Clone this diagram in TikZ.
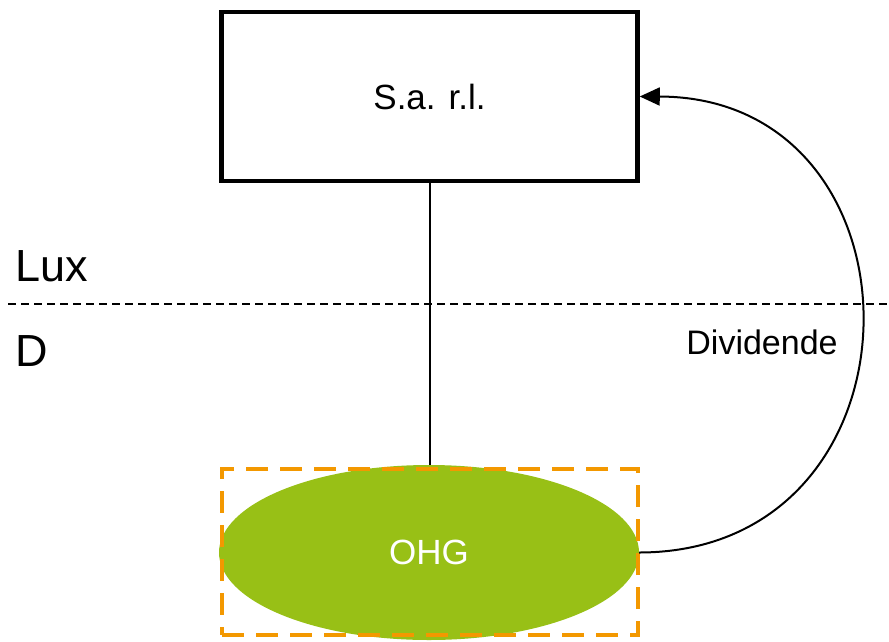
\documentclass[tikz,border=0pt]{standalone}
\usepackage{fontspec}
\setmainfont{Liberation Sans}
\usetikzlibrary{shapes.geometric,arrows.meta}
\definecolor{ohggreen}{RGB}{152,192,22}
\definecolor{frameorange}{RGB}{243,152,0}
\tikzset{
  bigtext/.style={font=\fontsize{35}{42}\selectfont},
  hugetext/.style={font=\fontsize{45}{54}\selectfont},
  company/.style={draw=black, line width=4.5pt, minimum width=416pt, minimum height=169pt, inner sep=0pt, bigtext},
  partnership/.style={ellipse, fill=ohggreen, minimum width=420pt, minimum height=175pt, inner sep=0pt, text=white, bigtext},
  ohgframe/.style={draw=frameorange, line width=4.5pt, dash pattern=on 22pt off 12pt, minimum width=416pt, minimum height=166pt, inner sep=0pt},
  border/.style={line width=1.5pt, dash pattern=on 8pt off 5pt},
  link/.style={line width=2pt},
  flow/.style={line width=2pt, -{Triangle[length=20pt,width=18pt]}}
}
\begin{document}
\begin{tikzpicture}[x=1pt,y=-1pt]
  \useasboundingbox (0,0) rectangle (889,641);
  % country border
  \coordinate (bl) at (8,304);
  \coordinate (br) at (889,304);
  \draw[border] (bl) -- (br);
  \node[hugetext, anchor=west] (lux) at (12,266) {Lux};
  \node[hugetext, anchor=west] (de) at (12,351) {D};
  % entities
  \node[company] (sarl) at (429.5,96.5) {S.a. r.l.};
  \node[partnership] (ohg) at (429,552.5) {OHG};
  \node[ohgframe] (frame) at (430,552) {};
  \draw[link] (sarl.south) -- (sarl.south |- ohg.north);
  % dividend flow
  \draw[flow] (ohg.east) .. controls (935,552) and (935,97) .. (sarl.east);
  \node[font=\fontsize{34}{40}\selectfont] (div) at (762,342) {Dividende};
\end{tikzpicture}
\end{document}
